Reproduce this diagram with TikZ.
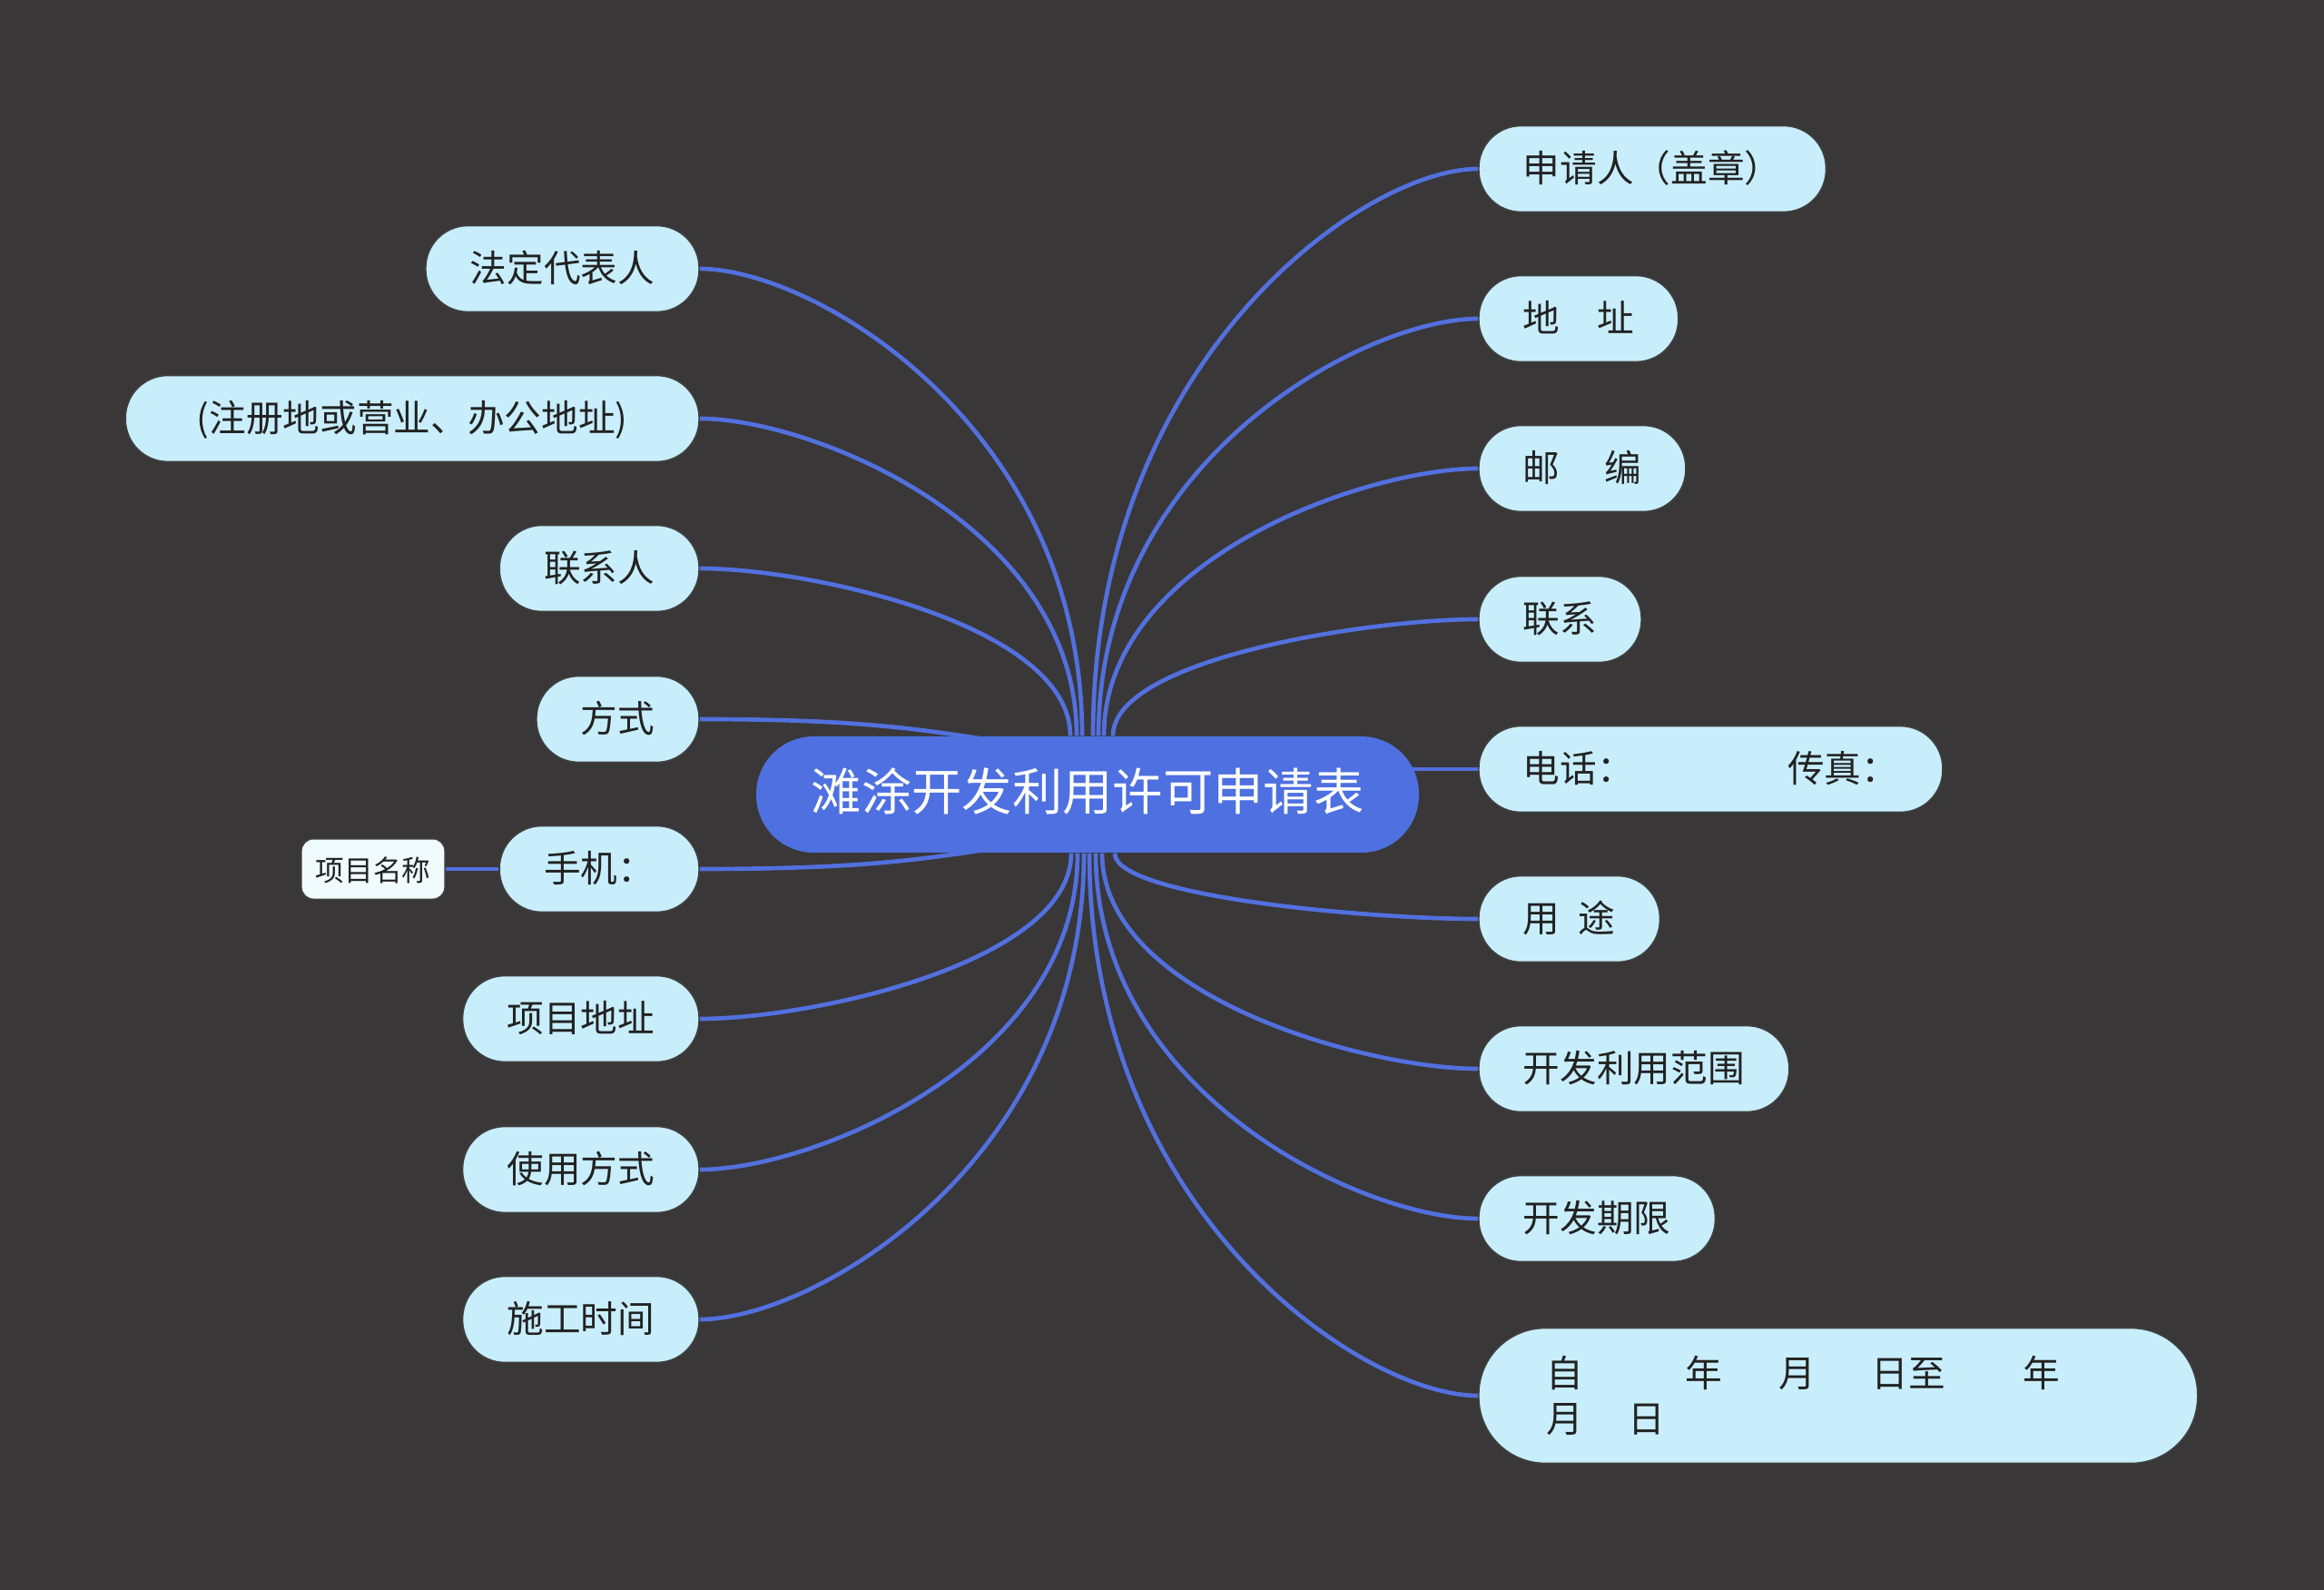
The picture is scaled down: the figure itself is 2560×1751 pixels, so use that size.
\documentclass[tikz,border=0pt]{standalone}
\usepackage{fontspec}
\usepackage{tikz}
\usepackage{xcolor}
\newfontfamily\cjk{Noto Sans CJK SC}
\usetikzlibrary{calc}

\definecolor{bgdark}{RGB}{57,55,56}
\definecolor{rootblue}{RGB}{78,112,224}
\definecolor{edgeblue}{RGB}{82,112,222}
\definecolor{leafcyan}{RGB}{200,238,252}
\definecolor{tagwhite}{RGB}{240,251,253}
\definecolor{inktext}{RGB}{34,34,34}

\pgfdeclarelayer{edges}
\pgfsetlayers{edges,main}

\tikzset{
  root/.style={rectangle, rounded corners=19pt, fill=rootblue, text=white,
    minimum width=219pt, minimum height=38.4pt, inner sep=0pt,
    text height=1.08em, text depth=0em,
    font=\cjk\fontsize{16.6pt}{20pt}\selectfont},
  leaf/.style={rectangle, rounded corners=14pt, fill=leafcyan, draw=black!75,
    line width=0.5pt, minimum height=28.5pt, inner xsep=14.7pt, inner ysep=0pt,
    text height=0.94em, text depth=0.06em, text=inktext,
    font=\cjk\fontsize{12.2pt}{15pt}\selectfont},
  tag/.style={rectangle, rounded corners=4pt, fill=tagwhite, draw=black!75,
    line width=0.5pt, minimum width=47.5pt, minimum height=20pt, inner sep=0pt,
    text height=0.9em, text depth=0.1em, text=inktext,
    font=\cjk\fontsize{9.5pt}{12pt}\selectfont},
  branch/.style={draw=edgeblue, line width=1.4pt},
}

\begin{document}
\begin{tikzpicture}[x=0.3pt, y=-0.3pt]
\useasboundingbox (0,0) rectangle (2560,1751);

\node[root] (root) at (1198,875) {滩涂开发利用许可申请表};

\node[leaf, anchor=west] (apply) at (1628,186) {申请人（盖章）};
\node[leaf, anchor=west] (addr) at (1628,351) {地\hspace{1em}址};
\node[leaf, anchor=west] (post) at (1628,516) {邮\hspace{1.2em}编};
\node[leaf, anchor=west] (cont) at (1628,682) {联系};
\node[leaf, anchor=west] (tel) at (1628,847) {电话：\hspace{4.16em}传真：};
\node[leaf, anchor=west] (use) at (1628,1012) {用\hspace{0.5em}途};
\node[leaf, anchor=west] (range) at (1628,1177) {开发利用范围};
\node[leaf, anchor=west] (term) at (1628,1342) {开发期限};
\node[leaf, anchor=west, rounded corners=22pt, minimum height=44.7pt,
  inner xsep=22.5pt, text width=192.6pt, align=left, text height=, text depth=] (date) at (1628,1537)
  {\baselineskip=17.5pt 自\hspace{2.76em}年\hspace{1.52em}月\hspace{1.52em}日至\hspace{2.1em}年\\月\hspace{1.2em}日};

\node[leaf, anchor=east] (legal) at (771,296) {法定代表人};
\node[leaf, anchor=east, minimum width=189.6pt] (regaddr) at (771,461) {(注册地或营业、办公地址)};
\node[leaf, anchor=east] (person) at (771,626) {联系人};
\node[leaf, anchor=east] (way) at (771,792) {方式};
\node[leaf, anchor=east] (phone) at (771,957) {手机：};
\node[leaf, anchor=east] (site) at (771,1122) {项目地址};
\node[leaf, anchor=east] (usage) at (771,1288) {使用方式};
\node[leaf, anchor=east] (build) at (771,1453) {施工时间};
\node[tag] (pname) at (411,957) {项目名称};

\begin{pgfonlayer}{edges}
\fill[bgdark] (0,0) rectangle (2560,1751);
\foreach \n/\dx/\side/\anc in {apply/6/north/west, addr/12/north/west, post/18/north/west,
    cont/28/north/west, use/30/south/west, range/16/south/west, term/9/south/west,
    date/2/south/west, legal/-6/north/east, regaddr/-12/north/east, person/-19/north/east,
    site/-18/south/east, usage/-11/south/east, build/-4/south/east}{
  \coordinate (s) at ([xshift=\dx*0.3pt]root.\side);
  \draw[branch] (s) .. controls ($(s)!0.66!(s |- \n.\anc)$) and ($(\n.\anc)!0.3!(s |- \n.\anc)$) .. (\n.\anc);
}
\coordinate (wayin) at ([xshift=-70*0.3pt, yshift=-10*0.3pt]root.north);
\coordinate (phonein) at ([xshift=-70*0.3pt, yshift=10*0.3pt]root.south);
\draw[branch] (way.east) .. controls +(200,0) and +(-100,-14) .. (wayin);
\draw[branch] (phone.east) .. controls +(200,0) and +(-100,14) .. (phonein);
\draw[branch] (tel.west) -- (tel.west -| root.center);
\draw[branch] (pname) -- (phone);
\end{pgfonlayer}
\end{tikzpicture}
\end{document}
